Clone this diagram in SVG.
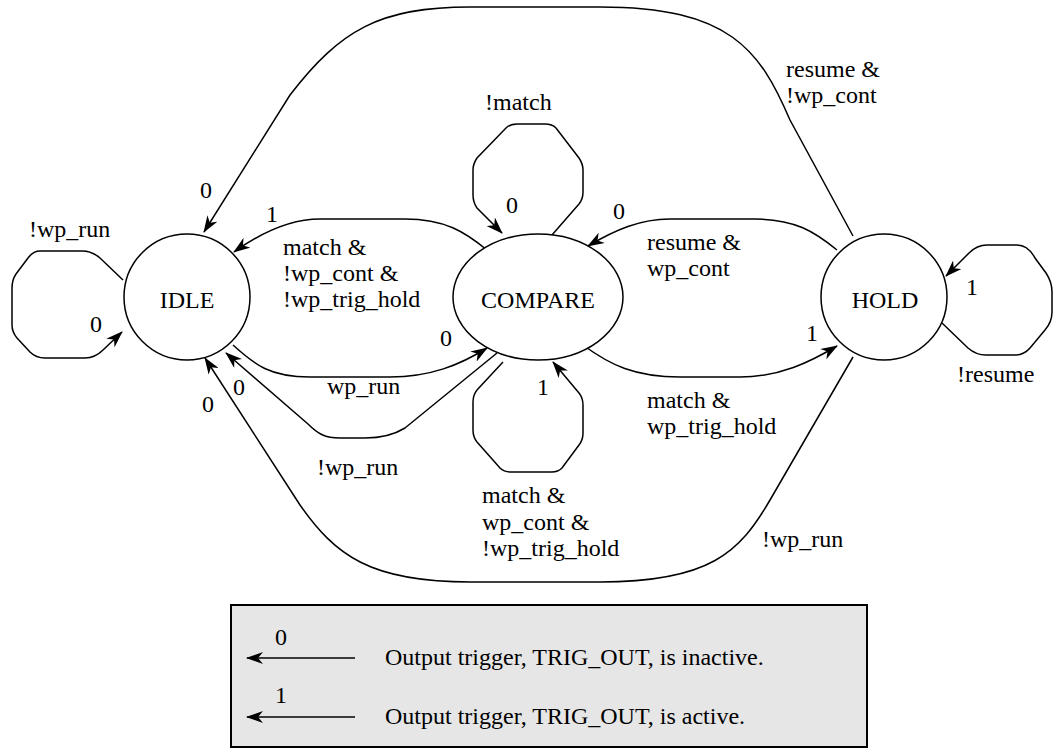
<svg xmlns="http://www.w3.org/2000/svg" width="1053" height="751" viewBox="0 0 1053 751">
  <style>
    text { font-family: "Liberation Serif", "Times New Roman", serif; font-size: 24px; fill: #000; }
    .state { fill: #fff; stroke: #000; stroke-width: 1.5; }
    .edge { fill: none; stroke: #000; stroke-width: 1.5; marker-end: url(#head); }
    .plain { fill: none; stroke: #000; stroke-width: 1.5; }
    .mid { text-anchor: middle; }
  </style>
  <defs>
    <marker id="head" markerUnits="userSpaceOnUse" markerWidth="17" markerHeight="12" viewBox="0 0 17 12" refX="16" refY="6" orient="auto">
      <path d="M0,0 L17,6 L0,12 L5,6 z" fill="#000"/>
    </marker>
  </defs>

  <rect width="1053" height="751" fill="#fff"/>

  <!-- transitions -->
  <g id="connectors">
    <!-- HOLD -> IDLE over the top -->
    <path class="edge" d="M853,236 L790,120 C760,50 730,7 600,7 L470,7 C380,7 340,30 290,95 L204,232"/>
    <!-- COMPARE -> IDLE (upper) -->
    <path class="edge" d="M487,250 C465,232 445,219 405,219 L320,219 C290,219 262,232 234,252"/>
    <!-- HOLD -> COMPARE (upper) -->
    <path class="edge" d="M837,250 C815,232 795,219 755,219 L670,219 C640,219 615,230 588,246"/>
    <!-- IDLE -> COMPARE -->
    <path class="edge" d="M233,345 C255,365 270,377 310,377 L390,377 C430,377 460,365 487,348"/>
    <!-- COMPARE -> IDLE (lower) -->
    <path class="edge" d="M497,353 L405,428 C392,436 380,438 365,438 L340,438 C325,438 318,434 308,424 L226,353"/>
    <!-- HOLD -> IDLE under the bottom -->
    <path class="edge" d="M853,357 L770,500 C740,552 710,582 600,582 L470,582 C370,582 335,555 300,505 L205,358"/>
    <!-- COMPARE -> HOLD -->
    <path class="edge" d="M583,345 C610,365 635,377 680,377 L740,377 C780,377 810,362 837,346"/>
    <!-- IDLE self loop -->
    <path class="edge" d="M123,280 L100,258 Q92,251 82,251 L40,251 Q33,251 28,258 L16,274 Q12,280 12,288 L12,325 Q12,332 17,338 L30,352 Q36,358 45,358 L85,358 Q95,358 103,350 L122,332"/>
    <!-- COMPARE self loop (top) -->
    <path class="edge" d="M552,235 L579,204 Q583,199 583,192 L583,170 Q583,164 579,158 L556,128 Q552,124 545,124 L517,124 Q510,124 506,128 L477,158 Q473,164 473,170 L473,195 Q473,202 477,208 L502,233"/>
    <!-- COMPARE self loop (bottom) -->
    <path class="edge" d="M503,362 L477,390 Q473,395 473,402 L473,430 Q473,437 477,442 L500,468 Q504,472 511,472 L552,472 Q558,472 562,468 L579,445 Q583,440 583,433 L583,405 Q583,398 579,393 L553,362"/>
    <!-- HOLD self loop -->
    <path class="edge" d="M942,323 L968,348 Q976,355 986,355 L1015,355 Q1024,355 1030,348 L1045,330 Q1052,322 1052,312 L1052,292 Q1052,282 1046,273 L1035,258 Q1028,245 1017,245 L987,245 Q977,245 969,253 L946,276"/>

    <!-- transition labels -->
    <text x="29" y="237">!wp_run</text>
    <text x="90" y="332">0</text>
    <text x="485" y="110">!match</text>
    <text x="506" y="213">0</text>
    <text x="613" y="219">0</text>
    <text x="647" y="250">resume &amp;</text>
    <text x="647" y="276">wp_cont</text>
    <text x="266" y="222">1</text>
    <text x="200" y="198">0</text>
    <text x="283" y="255">match &amp;</text>
    <text x="283" y="281">!wp_cont &amp;</text>
    <text x="283" y="307">!wp_trig_hold</text>
    <text x="786" y="77">resume &amp;</text>
    <text x="786" y="103">!wp_cont</text>
    <text x="440" y="346">0</text>
    <text x="327" y="394">wp_run</text>
    <text x="233" y="395">0</text>
    <text x="202" y="412">0</text>
    <text x="317" y="475">!wp_run</text>
    <text x="537" y="395">1</text>
    <text x="482" y="503">match &amp;</text>
    <text x="482" y="530">wp_cont &amp;</text>
    <text x="482" y="556">!wp_trig_hold</text>
    <text x="647" y="408">match &amp;</text>
    <text x="647" y="434">wp_trig_hold</text>
    <text x="806" y="341">1</text>
    <text x="762" y="547">!wp_run</text>
    <text x="966" y="295">1</text>
    <text x="957" y="382">!resume</text>
  </g>

  <!-- states -->
  <g id="idle">
    <circle class="state" cx="187" cy="297" r="63"/>
    <text class="mid" x="187" y="308">IDLE</text>
  </g>
  <g id="compare">
    <ellipse class="state" cx="538" cy="297" rx="85" ry="63"/>
    <text class="mid" x="538" y="308">COMPARE</text>
  </g>
  <g id="hold">
    <circle class="state" cx="884" cy="297" r="63"/>
    <text class="mid" x="885" y="308">HOLD</text>
  </g>

  <!-- legend -->
  <g id="legend">
    <rect x="231" y="605" width="636" height="142" fill="#e6e6e6" stroke="#000" stroke-width="2"/>
    <path class="edge" d="M355,658 L247,658"/>
    <text x="275" y="645">0</text>
    <text x="385" y="665">Output trigger, TRIG_OUT, is inactive.</text>
    <path class="edge" d="M355,717 L247,717"/>
    <text x="275" y="703">1</text>
    <text x="385" y="724">Output trigger, TRIG_OUT, is active.</text>
  </g>
</svg>
